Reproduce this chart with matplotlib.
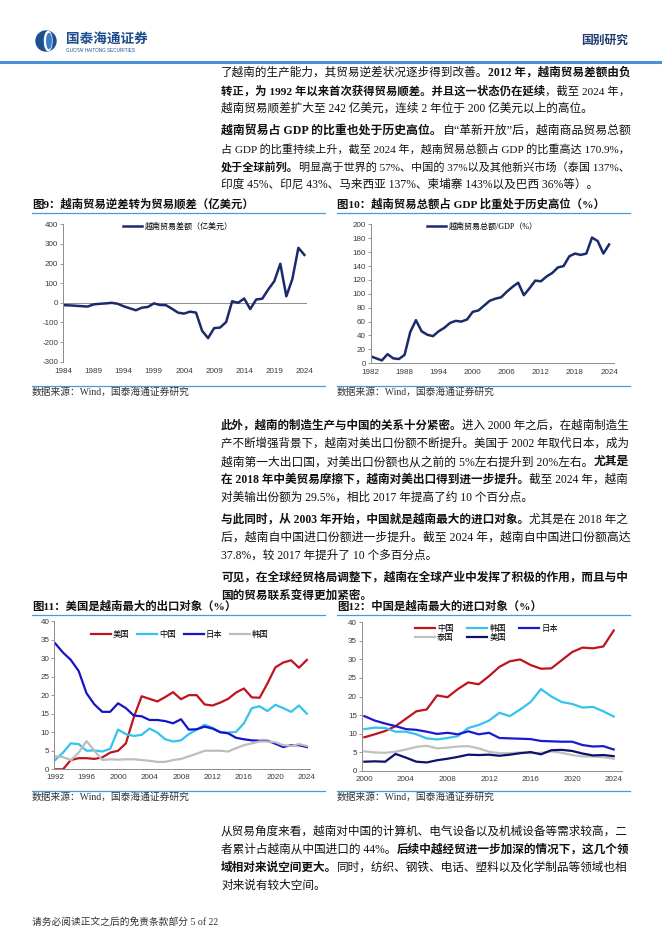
import numpy as np
import matplotlib
matplotlib.use("Agg")
import matplotlib.pyplot as plt
from matplotlib.lines import Line2D
from matplotlib.patches import Circle, Ellipse

# ---- data ----
years9 = list(range(1984, 2025))
balance9 = [-12, -13, -15, -17, -19, -8, -5, -3, 0, -5,
            -18, -28, -38, -25, -21, -3, -11, -12, -30, -50,
            -55, -45, -50, -142, -180, -129, -126, -98, 8, 0,
            22, -32, 17, 21, 68, 110, 199, 33, 121, 280, 244]

years10 = list(range(1982, 2025))
trade_gdp10 = [10, 7, 4, 13, 7, 6, 12, 45, 62, 46,
               41, 39, 46, 51, 58, 61, 60, 63, 74, 76,
               83, 90, 93, 95, 103, 110, 116, 98, 108, 119,
               118, 125, 130, 138, 140, 154, 158, 156, 158, 181,
               176, 158, 171]

years11 = list(range(1992, 2025))
exp_us = [0, 0, 2.5, 3, 3, 2.8, 3.2, 4.5, 5, 7,
          14, 19.7, 19, 18.3, 19.5, 20.8, 18.9, 20, 20, 17.5,
          17.2, 18, 19, 20.7, 21.8, 19.4, 19.3, 23.2, 27.5, 28.8,
          29.4, 27.4, 29.5]
exp_cn = [2.5, 4.5, 7, 6.8, 5, 5.1, 4.8, 5.5, 10.7, 9.5,
          9, 9.3, 11, 9.9, 8.1, 7.5, 7.8, 9.5, 10.7, 12,
          11.2, 10, 9.9, 10.1, 12.4, 16.5, 17, 15.7, 17.4, 16.5,
          15.5, 17.2, 15]
exp_jp = [34, 31.5, 29.5, 26.5, 20.5, 17.5, 15.5, 15.5, 17.8, 16.5,
          14.5, 14.3, 13.3, 13.3, 13, 12.4, 13.5, 10.7, 10.8, 11.5,
          11, 10, 9.7, 8.5, 8.1, 7.8, 7.7, 7.7, 6.9, 6,
          6.5, 6.5, 6]
exp_kr = [3.5, 3.3, 2.5, 4.5, 7.6, 5, 2.5, 2.7, 2.6, 2.7,
          2.7, 2.5, 2.3, 2, 2, 2.5, 2.8, 3.5, 4.2, 5,
          5, 5, 4.8, 5.7, 6.5, 7, 7.5, 7.5, 7.3, 6.5,
          6.3, 6.8, 6.3]

years12 = list(range(2000, 2025))
imp_cn = [9, 9.8, 10.7, 12, 14, 16, 16.5, 20.3, 19.8, 22,
          23.8, 23.3, 25.5, 28, 29.5, 30, 28.5, 27.5, 27.6, 29.8,
          32, 33.2, 33, 33.5, 37.8]
imp_kr = [11.2, 11.6, 11.5, 10.5, 10.5, 9.8, 8.7, 8.4, 8.8, 9.3,
          11.5, 12.3, 13.5, 15.6, 14.7, 16.5, 18.5, 22, 20, 18.5,
          18, 17, 17.2, 16, 14.6]
imp_jp = [14.7, 13.5, 12.7, 12, 11.2, 11, 10.5, 9.9, 10.2, 9.8,
          10.6, 9.8, 10.2, 8.8, 8.7, 8.6, 8.5, 8, 7.9, 7.8,
          7.8, 6.9, 6.5, 6.6, 5.7]
imp_th = [5.2, 4.9, 4.8, 5.1, 5.7, 6.4, 6.7, 6, 6.2, 6.5,
          6.6, 6, 5.1, 4.7, 4.7, 4.9, 4.7, 4.8, 5.2, 4.8,
          4.2, 3.8, 3.8, 3.6, 3.2]
imp_us = [2.4, 2.5, 2.4, 4.5, 3.5, 2.4, 2.2, 2.8, 3.2, 3.7,
          4.3, 4.2, 4.3, 4.0, 4.3, 4.7, 5, 4.4, 5.5, 5.6,
          5.3, 4.6, 4.1, 4.2, 3.9]

# ---- page setup ----
W, H = 662, 936
SERIF = ['Liberation Serif', 'Noto Sans CJK SC']
SANS = ['Liberation Sans', 'Noto Sans CJK SC']
plt.rcParams['font.family'] = SANS
plt.rcParams['axes.unicode_minus'] = False

fig = plt.figure(figsize=(W / 100, H / 100), dpi=100)
renderer = fig.canvas.get_renderer()

BLUE_RULE = '#4a9bd3'
AXIS_GREY = '#8c8c8c'
LABEL = '#3a3a3a'
TEXT_W = 407


def fx(x):
    return x / W


def fy(y):
    return 1 - y / H


def axes_px(x0, y0, x1, y1):
    return fig.add_axes([fx(x0), fy(y1), (x1 - x0) / W, (y1 - y0) / H])


def hline(x0, x1, y, color, lw):
    fig.add_artist(Line2D([fx(x0), fx(x1)], [fy(y), fy(y)], color=color, lw=lw))


def place_runs(texts, x):
    for t in texts:
        t.set_x(fx(x))
        x += t.get_window_extent(renderer=renderer).width
    return x


def text_line(x, y, parts, full=True, size=8.4):
    # a line made of normal / bold runs; full lines are fitted to the column width
    texts = [fig.text(fx(x), fy(y), s, fontsize=size, family=SERIF,
                      fontweight='bold' if bold else 'normal',
                      va='center', ha='left', color='#111111')
             for s, bold in parts]
    end = place_runs(texts, x)
    if full:
        k = min(max(TEXT_W / (end - x), 0.9), 1.08)
        for t in texts:
            t.set_fontsize(size * k)
        place_runs(texts, x)


# header
hline(0, W, 62, '#4a90d9', 2.2)
logo = axes_px(35, 30, 57, 52)
logo.set_xlim(-1.1, 1.1)
logo.set_ylim(-1.1, 1.1)
logo.set_aspect('equal')
logo.axis('off')
logo.add_patch(Circle((0, 0), 1.0, color='#1d4f91'))
logo.add_patch(Ellipse((0.22, 0), 0.75, 1.9, color='white'))
logo.add_patch(Ellipse((0.3, 0), 0.45, 1.5, color='#3b7dc4'))
fig.text(fx(66), fy(40), '国泰海通证券', fontsize=9.8, fontweight='bold',
         family=SANS, color='#1e4c8c', va='center', ha='left')
fig.text(fx(66), fy(50.5), 'GUOTAI HAITONG SECURITIES', fontsize=3.3,
         family=SANS, color='#1e4c8c', va='center', ha='left')
fig.text(fx(628), fy(41), '国别研究', fontsize=8.5, fontweight='bold',
         family=SANS, color='#1f3a6e', va='center', ha='right')

# body text
X0 = 221
text_line(X0, 73, [('了越南的生产能力，其贸易逆差状况逐步得到改善。', False),
                   ('2012 年，越南贸易差额由负', True)])
text_line(X0, 91, [('转正，为 1992 年以来首次获得贸易顺差。并且这一状态仍在延续', True),
                   ('，截至 2024 年，', False)])
text_line(X0, 109, [('越南贸易顺差扩大至 242 亿美元，连续 2 年位于 200 亿美元以上的高位。', False)],
          full=False)

text_line(X0, 131, [('越南贸易占 GDP 的比重也处于历史高位。', True),
                    ('自“革新开放”后，越南商品贸易总额', False)])
text_line(X0, 149, [('占 GDP 的比重持续上升，截至 2024 年，越南贸易总额占 GDP 的比重高达 170.9%，', False)])
text_line(X0, 167, [('处于全球前列。', True),
                    ('明显高于世界的 57%、中国的 37%以及其他新兴市场（泰国 137%、', False)])
text_line(X0, 185, [('印度 45%、印尼 43%、马来西亚 137%、柬埔寨 143%以及巴西 36%等）。', False)],
          full=False)

text_line(X0, 426, [('此外，越南的制造生产与中国的关系十分紧密。', True),
                    ('进入 2000 年之后，在越南制造生', False)])
text_line(X0, 444, [('产不断增强背景下，越南对美出口份额不断提升。美国于 2002 年取代日本，成为', False)])
text_line(X0, 462, [('越南第一大出口国，对美出口份额也从之前的 5%左右提升到 20%左右。', False),
                    ('尤其是', True)])
text_line(X0, 480, [('在 2018 年中美贸易摩擦下，越南对美出口得到进一步提升。', True),
                    ('截至 2024 年，越南', False)])
text_line(X0, 498, [('对美输出份额为 29.5%，相比 2017 年提高了约 10 个百分点。', False)], full=False)

text_line(X0, 520, [('与此同时，从 2003 年开始，中国就是越南最大的进口对象。', True),
                    ('尤其是在 2018 年之', False)])
text_line(X0, 538, [('后，越南自中国进口份额进一步提升。截至 2024 年，越南自中国进口份额高达', False)])
text_line(X0, 556, [('37.8%，较 2017 年提升了 10 个多百分点。', False)], full=False)

text_line(X0, 578, [('可见，在全球经贸格局调整下，越南在全球产业中发挥了积极的作用，而且与中', True)])
text_line(X0, 596, [('国的贸易联系变得更加紧密。', True)], full=False)

text_line(X0, 832, [('从贸易角度来看，越南对中国的计算机、电气设备以及机械设备等需求较高，二', False)])
text_line(X0, 850, [('者累计占越南从中国进口的 44%。', False),
                    ('后续中越经贸进一步加深的情况下，这几个领', True)])
text_line(X0, 868, [('域相对来说空间更大。', True),
                    ('同时，纺织、钢铁、电话、塑料以及化学制品等领域也相', False)])
text_line(X0, 886, [('对来说有较大空间。', False)], full=False)

fig.text(fx(32), fy(922), '请务必阅读正文之后的免责条款部分 5 of 22', fontsize=7,
         family=SERIF, color='#333333', va='center', ha='left')

# chart frames: titles, rules, sources
for (x0, x1, yt, yr, ys, title) in [
        (32, 325, 204, 212.7, 392, '图9：越南贸易逆差转为贸易顺差（亿美元）'),
        (337, 630, 204, 212.7, 392, '图10：越南贸易总额占 GDP 比重处于历史高位（%）'),
        (32, 325, 606, 614.5, 797, '图11：美国是越南最大的出口对象（%）'),
        (337, 630, 606, 614.5, 797, '图12：中国是越南最大的进口对象（%）')]:
    fig.text(fx(x0), fy(yt), title, fontsize=8.2, fontweight='bold',
             family=SERIF, color='#111111', va='center', ha='left')
    hline(x0, x1, yr, BLUE_RULE, 0.9)
    hline(x0, x1, ys - 6.3, BLUE_RULE, 0.9)
    fig.text(fx(x0), fy(ys), '数据来源：Wind，国泰海通证券研究', fontsize=7,
             family=SERIF, color='#333333', va='center', ha='left')


def style_axes(ax, zero_line=False, xpad=3.5):
    for s in ['top', 'right']:
        ax.spines[s].set_visible(False)
    ax.spines['left'].set_color(AXIS_GREY)
    ax.spines['left'].set_linewidth(0.7)
    if zero_line:
        ax.spines['bottom'].set_visible(False)
        ax.axhline(0, color=AXIS_GREY, lw=0.7, zorder=1)
    else:
        ax.spines['bottom'].set_color(AXIS_GREY)
        ax.spines['bottom'].set_linewidth(0.7)
    ax.tick_params(axis='y', length=2, width=0.6, pad=1.5, color=AXIS_GREY,
                   labelsize=5.8, labelcolor=LABEL)
    ax.tick_params(axis='x', length=0, pad=xpad, labelsize=5.8, labelcolor=LABEL)
    ax.patch.set_alpha(0)


def legend_px(ax, x, y, ncol, fontsize=5.8, colsp=1.2, lsp=0.3):
    return ax.legend(loc='center left', bbox_to_anchor=(fx(x), fy(y)),
                     bbox_transform=fig.transFigure, frameon=False, ncol=ncol,
                     handlelength=2.4, handletextpad=0.25,
                     columnspacing=colsp, labelspacing=lsp, borderpad=0,
                     borderaxespad=0, prop={'family': SERIF, 'size': fontsize})


# chart 9
ax9 = axes_px(63, 224.3, 307.4, 361.7)
ax9.plot(years9, balance9, color='#1c2a6b', lw=1.8, label='越南贸易差额（亿美元）')
ax9.set_xlim(1983.9, 2024.5)
ax9.set_ylim(-300, 400)
ax9.set_yticks(range(-300, 401, 100))
ax9.set_xticks(range(1984, 2025, 5))
style_axes(ax9, zero_line=True, xpad=4.5)
legend_px(ax9, 123, 226.8, 1)

# chart 10
ax10 = axes_px(370.5, 224.4, 613.6, 363.2)
ax10.plot(years10, trade_gdp10, color='#1c2a6b', lw=1.8, label='越南贸易总额/GDP（%）')
ax10.set_xlim(1982, 2024.8)
ax10.set_ylim(0, 200)
ax10.set_yticks(range(0, 201, 20))
ax10.set_xticks(range(1982, 2025, 6))
style_axes(ax10, xpad=4)
legend_px(ax10, 427, 226.8, 1)

# chart 11
ax11 = axes_px(54.3, 621, 310, 769.3)
ax11.plot(years11, exp_us, color='#c0141c', lw=1.6, label='美国')
ax11.plot(years11, exp_cn, color='#33c3ec', lw=1.6, label='中国')
ax11.plot(years11, exp_jp, color='#1414c8', lw=1.6, label='日本')
ax11.plot(years11, exp_kr, color='#bdbdbd', lw=1.6, label='韩国')
ax11.set_xlim(1991.9, 2024.4)
ax11.set_ylim(0, 40)
ax11.set_yticks(range(0, 41, 5))
ax11.set_xticks(range(1992, 2025, 4))
style_axes(ax11, xpad=3.5)
legend_px(ax11, 91, 634.5, 4, fontsize=6, colsp=0.9)

# chart 12
ax12 = axes_px(361.8, 622.4, 622, 770.6)
l_cn, = ax12.plot(years12, imp_cn, color='#c0141c', lw=1.6, label='中国')
l_kr, = ax12.plot(years12, imp_kr, color='#33c3ec', lw=1.6, label='韩国')
l_jp, = ax12.plot(years12, imp_jp, color='#1a1ad0', lw=1.6, label='日本')
l_th, = ax12.plot(years12, imp_th, color='#c0c0c0', lw=1.6, label='泰国')
l_us, = ax12.plot(years12, imp_us, color='#10106e', lw=1.6, label='美国')
ax12.set_xlim(1999.75, 2024.8)
ax12.set_ylim(0, 40)
ax12.set_yticks(range(0, 41, 5))
ax12.set_xticks(range(2000, 2025, 4))
style_axes(ax12, xpad=4)
order = [l_cn, l_th, l_kr, l_us, l_jp]
ax12.legend(order, [h.get_label() for h in order], loc='center left',
            bbox_to_anchor=(fx(415), fy(633.5)), bbox_transform=fig.transFigure,
            frameon=False, ncol=3, handlelength=2.4, handletextpad=0.25,
            columnspacing=1.6, labelspacing=0.1, borderpad=0, borderaxespad=0,
            prop={'family': SERIF, 'size': 6})

fig.savefig('out.png', dpi=100)
